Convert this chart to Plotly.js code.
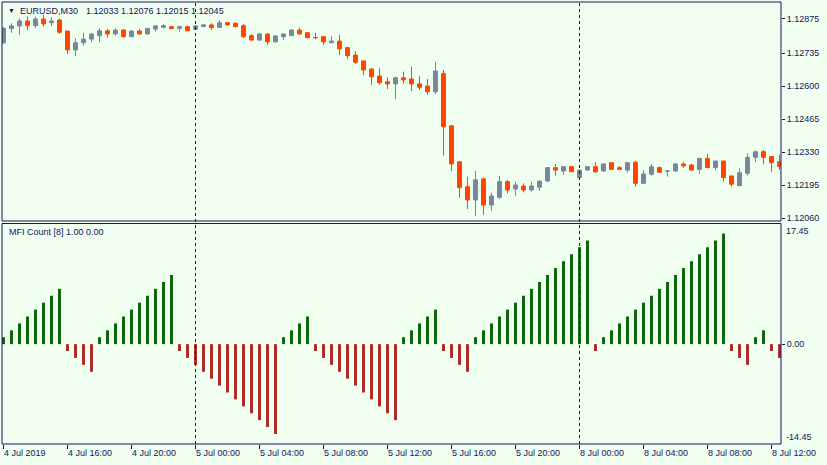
<!DOCTYPE html>
<html>
<head>
<meta charset="utf-8">
<script src="https://cdn.plot.ly/plotly-3.0.1.min.js"></script>
<style>
  html, body { margin: 0; padding: 0; background: #F0FFF0; }
  #chart { width: 827px; height: 465px; }
</style>
</head>
<body>
<div id="chart"></div>
<script>
// ---- Data (EURUSD M30, 4 Jul 2019 12:00 .. 8 Jul 2019 12:30) ----
const dayParts = [["4 Jul", 24, 48], ["5 Jul", 0, 48], ["8 Jul", 0, 26]];

const openP = [
1.12777, 1.12835, 1.12846, 1.12866, 1.12847, 1.12874, 1.12859, 1.12870, 1.12825, 1.12748,
1.12777, 1.12792, 1.12806, 1.12826, 1.12813, 1.12829, 1.12802, 1.12825, 1.12813, 1.12833,
1.12840, 1.12843, 1.12836, 1.12843, 1.12832, 1.12844, 1.12850, 1.12840, 1.12859, 1.12857,
1.12847, 1.12806, 1.12788, 1.12813, 1.12781, 1.12802, 1.12806, 1.12829, 1.12818, 1.12798,
1.12802, 1.12777, 1.12784, 1.12757, 1.12727, 1.12703, 1.12670, 1.12641, 1.12618, 1.12609,
1.12634, 1.12629, 1.12609, 1.12600, 1.12577, 1.12652, 1.12438, 1.12291, 1.12189, 1.12135,
1.12221, 1.12114, 1.12146, 1.12210, 1.12180, 1.12192, 1.12176, 1.12187, 1.12212, 1.12267,
1.12253, 1.12271, 1.12226, 1.12257, 1.12271, 1.12253, 1.12287, 1.12267, 1.12257, 1.12289,
1.12203, 1.12240, 1.12268, 1.12253, 1.12253, 1.12282, 1.12278, 1.12260, 1.12305, 1.12267,
1.12294, 1.12233, 1.12193, 1.12244, 1.12309, 1.12332, 1.12312, 1.12291
];
const highP = [
1.12842, 1.12857, 1.12877, 1.12884, 1.12884, 1.12891, 1.12881, 1.12877, 1.12825, 1.12795,
1.12818, 1.12818, 1.12836, 1.12833, 1.12836, 1.12833, 1.12827, 1.12833, 1.12837, 1.12850,
1.12853, 1.12846, 1.12847, 1.12846, 1.12850, 1.12854, 1.12857, 1.12870, 1.12863, 1.12859,
1.12854, 1.12812, 1.12816, 1.12816, 1.12809, 1.12814, 1.12833, 1.12839, 1.12822, 1.12818,
1.12806, 1.12805, 1.12809, 1.12761, 1.12743, 1.12705, 1.12672, 1.12673, 1.12636, 1.12638,
1.12659, 1.12679, 1.12641, 1.12629, 1.12700, 1.12666, 1.12439, 1.12292, 1.12230, 1.12253,
1.12226, 1.12165, 1.12233, 1.12217, 1.12210, 1.12203, 1.12210, 1.12214, 1.12268, 1.12281,
1.12274, 1.12272, 1.12259, 1.12272, 1.12289, 1.12283, 1.12289, 1.12274, 1.12289, 1.12295,
1.12257, 1.12282, 1.12270, 1.12257, 1.12287, 1.12291, 1.12282, 1.12306, 1.12323, 1.12295,
1.12295, 1.12234, 1.12264, 1.12326, 1.12336, 1.12339, 1.12313, 1.12319
];
const lowP = [
1.12772, 1.12818, 1.12809, 1.12829, 1.12836, 1.12843, 1.12846, 1.12813, 1.12731, 1.12723,
1.12765, 1.12779, 1.12779, 1.12798, 1.12806, 1.12798, 1.12801, 1.12812, 1.12812, 1.12822,
1.12836, 1.12832, 1.12822, 1.12825, 1.12829, 1.12840, 1.12829, 1.12839, 1.12847, 1.12840,
1.12795, 1.12786, 1.12786, 1.12768, 1.12777, 1.12788, 1.12805, 1.12812, 1.12797, 1.12791,
1.12768, 1.12776, 1.12727, 1.12711, 1.12690, 1.12645, 1.12605, 1.12605, 1.12588, 1.12547,
1.12609, 1.12580, 1.12584, 1.12564, 1.12568, 1.12316, 1.12253, 1.12144, 1.12098, 1.12069,
1.12074, 1.12090, 1.12139, 1.12162, 1.12151, 1.12166, 1.12169, 1.12172, 1.12210, 1.12234,
1.12237, 1.12249, 1.12225, 1.12256, 1.12244, 1.12250, 1.12259, 1.12257, 1.12246, 1.12189,
1.12202, 1.12234, 1.12246, 1.12230, 1.12250, 1.12267, 1.12253, 1.12241, 1.12265, 1.12257,
1.12210, 1.12189, 1.12192, 1.12234, 1.12289, 1.12281, 1.12250, 1.12257
];
const closeP = [
1.12836, 1.12846, 1.12866, 1.12847, 1.12874, 1.12854, 1.12866, 1.12820, 1.12748, 1.12777,
1.12792, 1.12813, 1.12826, 1.12813, 1.12829, 1.12802, 1.12825, 1.12813, 1.12836, 1.12846,
1.12847, 1.12835, 1.12843, 1.12826, 1.12846, 1.12850, 1.12839, 1.12859, 1.12850, 1.12843,
1.12802, 1.12788, 1.12813, 1.12781, 1.12805, 1.12813, 1.12829, 1.12813, 1.12798, 1.12798,
1.12781, 1.12784, 1.12752, 1.12724, 1.12697, 1.12666, 1.12638, 1.12614, 1.12609, 1.12634,
1.12625, 1.12609, 1.12595, 1.12577, 1.12662, 1.12434, 1.12282, 1.12185, 1.12135, 1.12217,
1.12114, 1.12151, 1.12210, 1.12176, 1.12196, 1.12176, 1.12192, 1.12212, 1.12267, 1.12257,
1.12271, 1.12250, 1.12257, 1.12271, 1.12250, 1.12282, 1.12260, 1.12260, 1.12287, 1.12203,
1.12241, 1.12271, 1.12248, 1.12253, 1.12282, 1.12274, 1.12257, 1.12305, 1.12267, 1.12294,
1.12226, 1.12199, 1.12246, 1.12309, 1.12332, 1.12309, 1.12287, 1.12271
];
// MFI Count [8] histogram
const mfiCount = [
1, 2, 3, 4, 5, 6, 7, 8,
-1, -2, -3, -4,
1, 2, 3, 4, 5, 6, 7, 8, 9, 10,
-1, -2, -3, -4, -5, -6, -7, -8, -9, -10, -11, -12, -13,
1, 2, 3, 4,
-1, -2, -3, -4, -5, -6, -7, -8, -9, -10, -11,
1, 2, 3, 4, 5,
-1, -2, -3, -4,
1, 2, 3, 4, 5, 6, 7, 8, 9, 10, 11, 12, 13, 14, 15,
-1,
1, 2, 3, 4, 5, 6, 7, 8, 9, 10, 11, 12, 13, 14, 15, 16,
-1, -2, -3,
1, 2,
-1, -2
];
const priceTicks = [1.12875, 1.12735, 1.12600, 1.12465, 1.12330, 1.12195, 1.12060];
const tickEvery = 8;
const timeTickLabels = ["4 Jul 2019", "4 Jul 16:00", "4 Jul 20:00", "5 Jul 00:00", "5 Jul 04:00",
  "5 Jul 08:00", "5 Jul 12:00", "5 Jul 16:00", "5 Jul 20:00", "8 Jul 00:00", "8 Jul 04:00",
  "8 Jul 08:00", "8 Jul 12:00"];
const separatorTimes = ["5 Jul 00:00", "8 Jul 00:00"];
const mfiMax = 17.45, mfiMin = -14.45;
const header = ["EURUSD,M30", "1.12033 1.12076 1.12015 1.12045"];
const indicatorLabel = "MFI Count [8] 1.00 0.00";

// ---- Build bar times (30 min bars, weekend skipped) ----
const times = [];
dayParts.forEach(([d, from, to]) => {
  for (let h = from; h < to; h++) {
    const hh = String(Math.floor(h / 2)).padStart(2, "0");
    const mm = h % 2 ? "30" : "00";
    times.push(d + " " + hh + ":" + mm);
  }
});
const tickVals = times.filter((t, i) => i % tickEvery === 0);

const BG = "#F0FFF0", FRAME = "#141464", TXT = "#14145a";
const FONT = "Liberation Sans, Arial, sans-serif";
const W = 827, H = 465, ML = 2, MR = 46, MT = 2, MB = 21;
const PW = W - ML - MR, PH = H - MT - MB;
const px2x = p => (p - ML) / PW;
const px2y = p => (H - MB - p) / PH;
const upperDom = [px2y(221), 1];
const lowerDom = [0, px2y(223.5)];

const candle = {
  type: "candlestick", x: times, open: openP, high: highP, low: lowP, close: closeP,
  xaxis: "x", yaxis: "y",
  increasing: { line: { color: "#778899", width: 1 }, fillcolor: "#778899" },
  decreasing: { line: { color: "#FF4500", width: 1 }, fillcolor: "#FF4500" },
  whiskerwidth: 0, hoverinfo: "none", showlegend: false
};
const hist = {
  type: "bar", x: times, y: mfiCount, xaxis: "x", yaxis: "y2", width: 0.36,
  marker: { color: mfiCount.map(v => v >= 0 ? "#006400" : "#B22222"), line: { width: 0 } },
  hoverinfo: "none", showlegend: false
};

const shapes = [
  { type: "rect", xref: "paper", yref: "paper", x0: 0, x1: 1, y0: upperDom[0], y1: upperDom[1],
    line: { color: FRAME, width: 1 }, fillcolor: "rgba(0,0,0,0)" },
  { type: "rect", xref: "paper", yref: "paper", x0: 0, x1: 1, y0: lowerDom[0], y1: lowerDom[1],
    line: { color: FRAME, width: 1 }, fillcolor: "rgba(0,0,0,0)" }
];
separatorTimes.forEach(t => shapes.push({
  type: "line", xref: "x", yref: "paper", x0: t, x1: t, y0: 0, y1: 1,
  line: { color: FRAME, width: 1, dash: "3px,3px" }
}));

const annFont = { family: FONT, size: 9, color: TXT };
const annotations = [
  { xref: "paper", yref: "paper", x: px2x(6), y: px2y(10.5), xanchor: "left", yanchor: "middle",
    text: "▼", showarrow: false, font: { family: FONT, size: 7, color: TXT } },
  { xref: "paper", yref: "paper", x: px2x(17.5), y: px2y(10.5), xanchor: "left", yanchor: "middle",
    text: header[0], showarrow: false, font: annFont },
  { xref: "paper", yref: "paper", x: px2x(83.5), y: px2y(10.5), xanchor: "left", yanchor: "middle",
    text: header[1], showarrow: false, font: annFont },
  { xref: "paper", yref: "paper", x: px2x(6.5), y: px2y(232.5), xanchor: "left", yanchor: "middle",
    text: indicatorLabel, showarrow: false, font: annFont },
  { xref: "paper", yref: "y2", x: 1, y: mfiMax, xanchor: "left", yanchor: "top", xshift: 3,
    text: mfiMax.toFixed(2), showarrow: false, font: annFont },
  { xref: "paper", yref: "y2", x: 1, y: mfiMin, xanchor: "left", yanchor: "bottom", xshift: 3,
    text: mfiMin.toFixed(2), showarrow: false, font: annFont }
];

const layout = {
  width: W, height: H,
  margin: { l: ML, r: MR, t: MT, b: MB, pad: 0 },
  paper_bgcolor: BG, plot_bgcolor: BG,
  showlegend: false, boxgap: 0.3, barmode: "overlay",
  font: { family: FONT, size: 9, color: TXT },
  xaxis: {
    type: "category", anchor: "y2", range: [-0.1875, 97.1875],
    rangeslider: { visible: false }, showgrid: false, zeroline: false, showline: false,
    tickmode: "array", tickvals: tickVals, ticktext: timeTickLabels,
    ticks: "outside", ticklen: 4, tickcolor: FRAME, tickwidth: 1,
    ticklabelposition: "outside right", tickfont: { family: FONT, size: 9, color: TXT },
    fixedrange: true
  },
  yaxis: {
    domain: upperDom, anchor: "x", side: "right",
    range: [1.12049, 1.129436], showgrid: false, zeroline: false, showline: false,
    tickmode: "array", tickvals: priceTicks, ticktext: priceTicks.map(v => v.toFixed(5)),
    ticks: "outside", ticklen: 3, tickcolor: FRAME, tickfont: { family: FONT, size: 9, color: TXT }
  },
  yaxis2: {
    domain: lowerDom, anchor: "x", side: "right",
    range: [mfiMin, mfiMax], showgrid: false, zeroline: false, showline: false,
    tickmode: "array", tickvals: [0], ticktext: ["0.00"],
    ticks: "outside", ticklen: 3, tickcolor: FRAME, tickfont: { family: FONT, size: 9, color: TXT }
  },
  shapes: shapes,
  annotations: annotations
};

Plotly.newPlot("chart", [hist, candle], layout, { staticPlot: true, displayModeBar: false });
</script>
</body>
</html>
